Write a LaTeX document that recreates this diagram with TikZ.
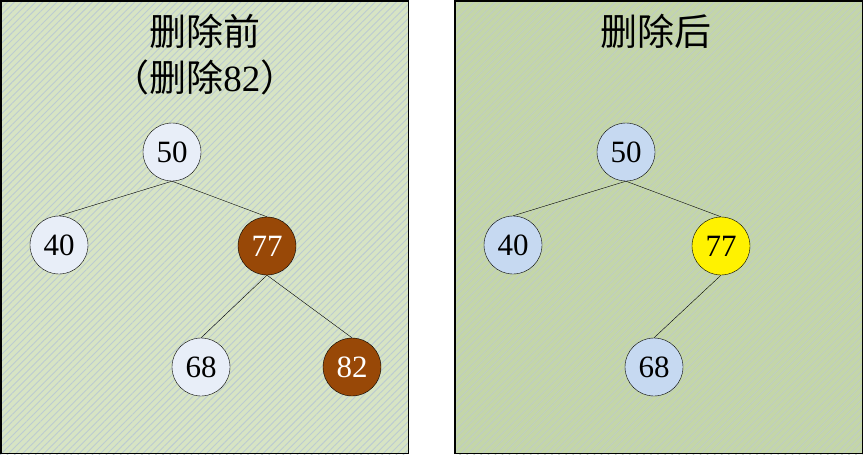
\documentclass[tikz,border=0pt]{standalone}
\usepackage{fontspec}
\usepackage{tikz}
\usetikzlibrary{patterns.meta}
\setmainfont{Liberation Serif}
\newfontfamily\cjk{Noto Sans CJK SC}

\definecolor{leftbg}{HTML}{D7E4C4}
\definecolor{lefthatch}{HTML}{BCCBD2}
\definecolor{rightbg}{HTML}{C4D6A8}
\definecolor{righthatch}{HTML}{BFCDC4}
\definecolor{keypale}{HTML}{E8EEF8}
\definecolor{keyblue}{HTML}{C6D9F1}
\definecolor{keybrown}{HTML}{984807}

\tikzset{
  key/.style={circle, draw=black, thin, minimum size=58pt, inner sep=0pt,
    font=\fontsize{31}{31}\selectfont},
  title/.style={font=\fontsize{37}{44}\selectfont, align=center},
  branch/.style={black, thin}
}

\begin{document}
\begin{tikzpicture}[x=1pt, y=-1pt]
\useasboundingbox (0,0) rectangle (863,455);

% left panel: before
\fill[leftbg] (0,0) rectangle (409,454);
\fill[pattern={Lines[angle=45, distance=5pt, line width=0.9pt]}, pattern color=lefthatch] (0,0) rectangle (409,454);
\draw[black, line width=1.5pt] (0.75,0.75) rectangle (408.25,453.25);

\node[title] (tbefore) at (205,31) {\cjk 删除前};
\node[title] (tdel) at (205,77) {{\cjk （删除}82{\cjk ）}};

\node[key, fill=keypale] (a50) at (172,152) {50};
\node[key, fill=keypale] (a40) at (59,245) {40};
\node[key, fill=keybrown, text=white] (a77) at (267,246) {77};
\node[key, fill=keypale] (a68) at (201,367) {68};
\node[key, fill=keybrown, text=white] (a82) at (352,367) {82};

\draw[branch] (a50.south) -- (a40.north);
\draw[branch] (a50.south) -- (a77.north);
\draw[branch] (a77.south) -- (a68.north);
\draw[branch] (a77.south) -- (a82.north);

% right panel: after
\fill[rightbg] (454,0) rectangle (863,454);
\fill[pattern={Lines[angle=45, distance=5pt, line width=0.9pt]}, pattern color=righthatch] (454,0) rectangle (863,454);
\draw[black, line width=1.5pt] (454.75,0.75) rectangle (862.25,453.25);

\node[title] (tafter) at (656,31) {\cjk 删除后};

\node[key, fill=keyblue] (b50) at (626,152) {50};
\node[key, fill=keyblue] (b40) at (513,245) {40};
\node[key, fill=yellow] (b77) at (721,246) {77};
\node[key, fill=keyblue] (b68) at (654,367) {68};

\draw[branch] (b50.south) -- (b40.north);
\draw[branch] (b50.south) -- (b77.north);
\draw[branch] (b77.south) -- (b68.north);
\end{tikzpicture}
\end{document}
